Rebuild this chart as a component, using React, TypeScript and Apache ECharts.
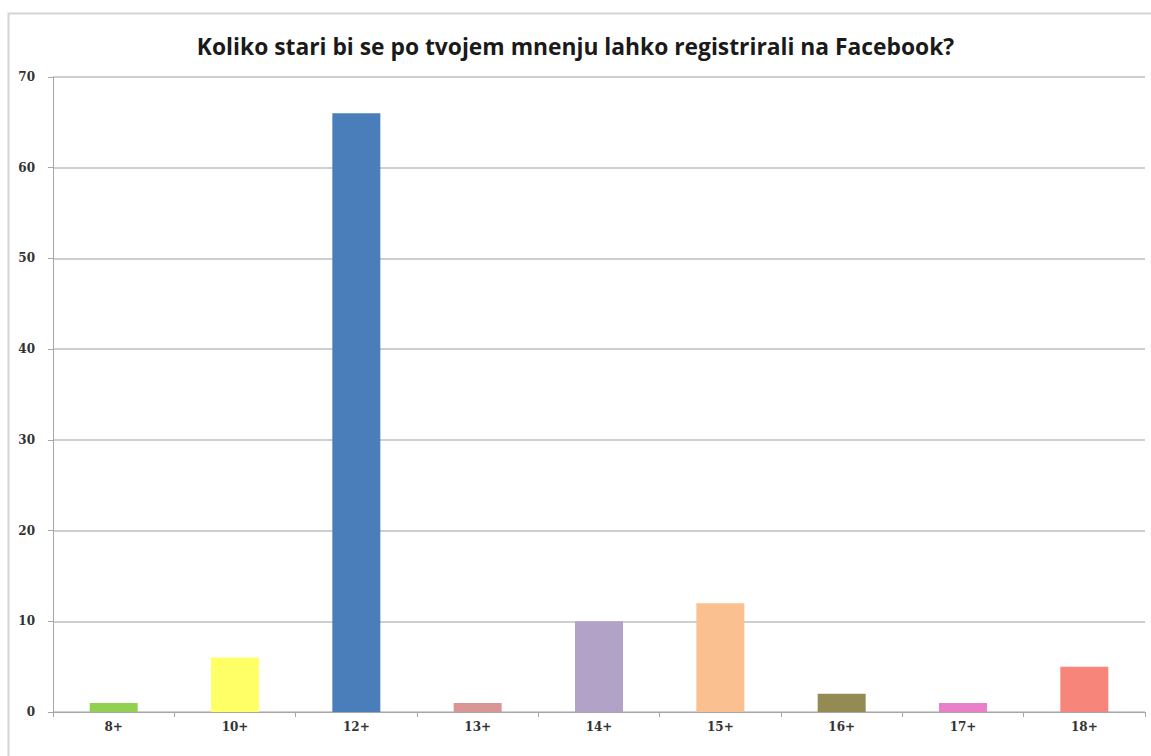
import React, { useEffect, useRef } from "react";
import * as echarts from "echarts";

const titleText = "Koliko stari bi se po tvojem mnenju lahko registrirali na Facebook?";
const categories = ["8+", "10+", "12+", "13+", "14+", "15+", "16+", "17+", "18+"];
const values = [1, 6, 66, 1, 10, 12, 2, 1, 5];
const barColors = ["#92d050", "#ffff66", "#4a7ebb", "#d99694", "#b3a2c7", "#fac090", "#948a54", "#e87fc8", "#f7857a"];

export default function App() {
  const ref = useRef<HTMLDivElement>(null);
  useEffect(() => {
    if (!ref.current) return;
    const chart = echarts.init(ref.current, null, { renderer: "svg" });
    chart.setOption({
      animation: false,
      backgroundColor: "#ffffff",
      title: {
        text: titleText,
        left: "center",
        top: 30,
        textStyle: { fontFamily: "Open Sans", fontWeight: "bold", fontSize: 22.8, color: "#1a1a1a" },
      },
      graphic: [
        {
          type: "rect",
          left: 6,
          top: 11,
          shape: { width: 1200, height: 800 },
          style: { fill: "none", stroke: "#d4d4d4", lineWidth: 2 },
          silent: true,
        },
      ],
      grid: { left: 53, right: 6, top: 77, bottom: 44 },
      xAxis: {
        type: "category",
        data: categories,
        axisLine: { lineStyle: { color: "#a6a6a6", width: 1 } },
        axisTick: { show: true, alignWithLabel: false, length: 5, lineStyle: { color: "#a6a6a6" } },
        axisLabel: { fontFamily: "DejaVu Serif", fontWeight: "bold", fontSize: 12, color: "#333", margin: 9 },
      },
      yAxis: {
        type: "value",
        min: 0,
        max: 70,
        interval: 10,
        axisLine: { show: true, lineStyle: { color: "#a6a6a6", width: 1 } },
        axisTick: { show: true, length: 5, lineStyle: { color: "#a6a6a6" } },
        axisLabel: { fontFamily: "DejaVu Serif", fontWeight: "bold", fontSize: 12, color: "#333", margin: 18 },
        splitLine: { lineStyle: { color: "#bfbfbf", width: 1.5 } },
      },
      series: [
        {
          type: "bar",
          data: values.map((v, i) => ({ value: v, itemStyle: { color: barColors[i] } })),
          barWidth: 48,
        },
      ],
    });
    return () => chart.dispose();
  }, []);
  return <div ref={ref} style={{ position: "absolute", left: 0, top: 0, width: 1151, height: 756 }} />;
}
